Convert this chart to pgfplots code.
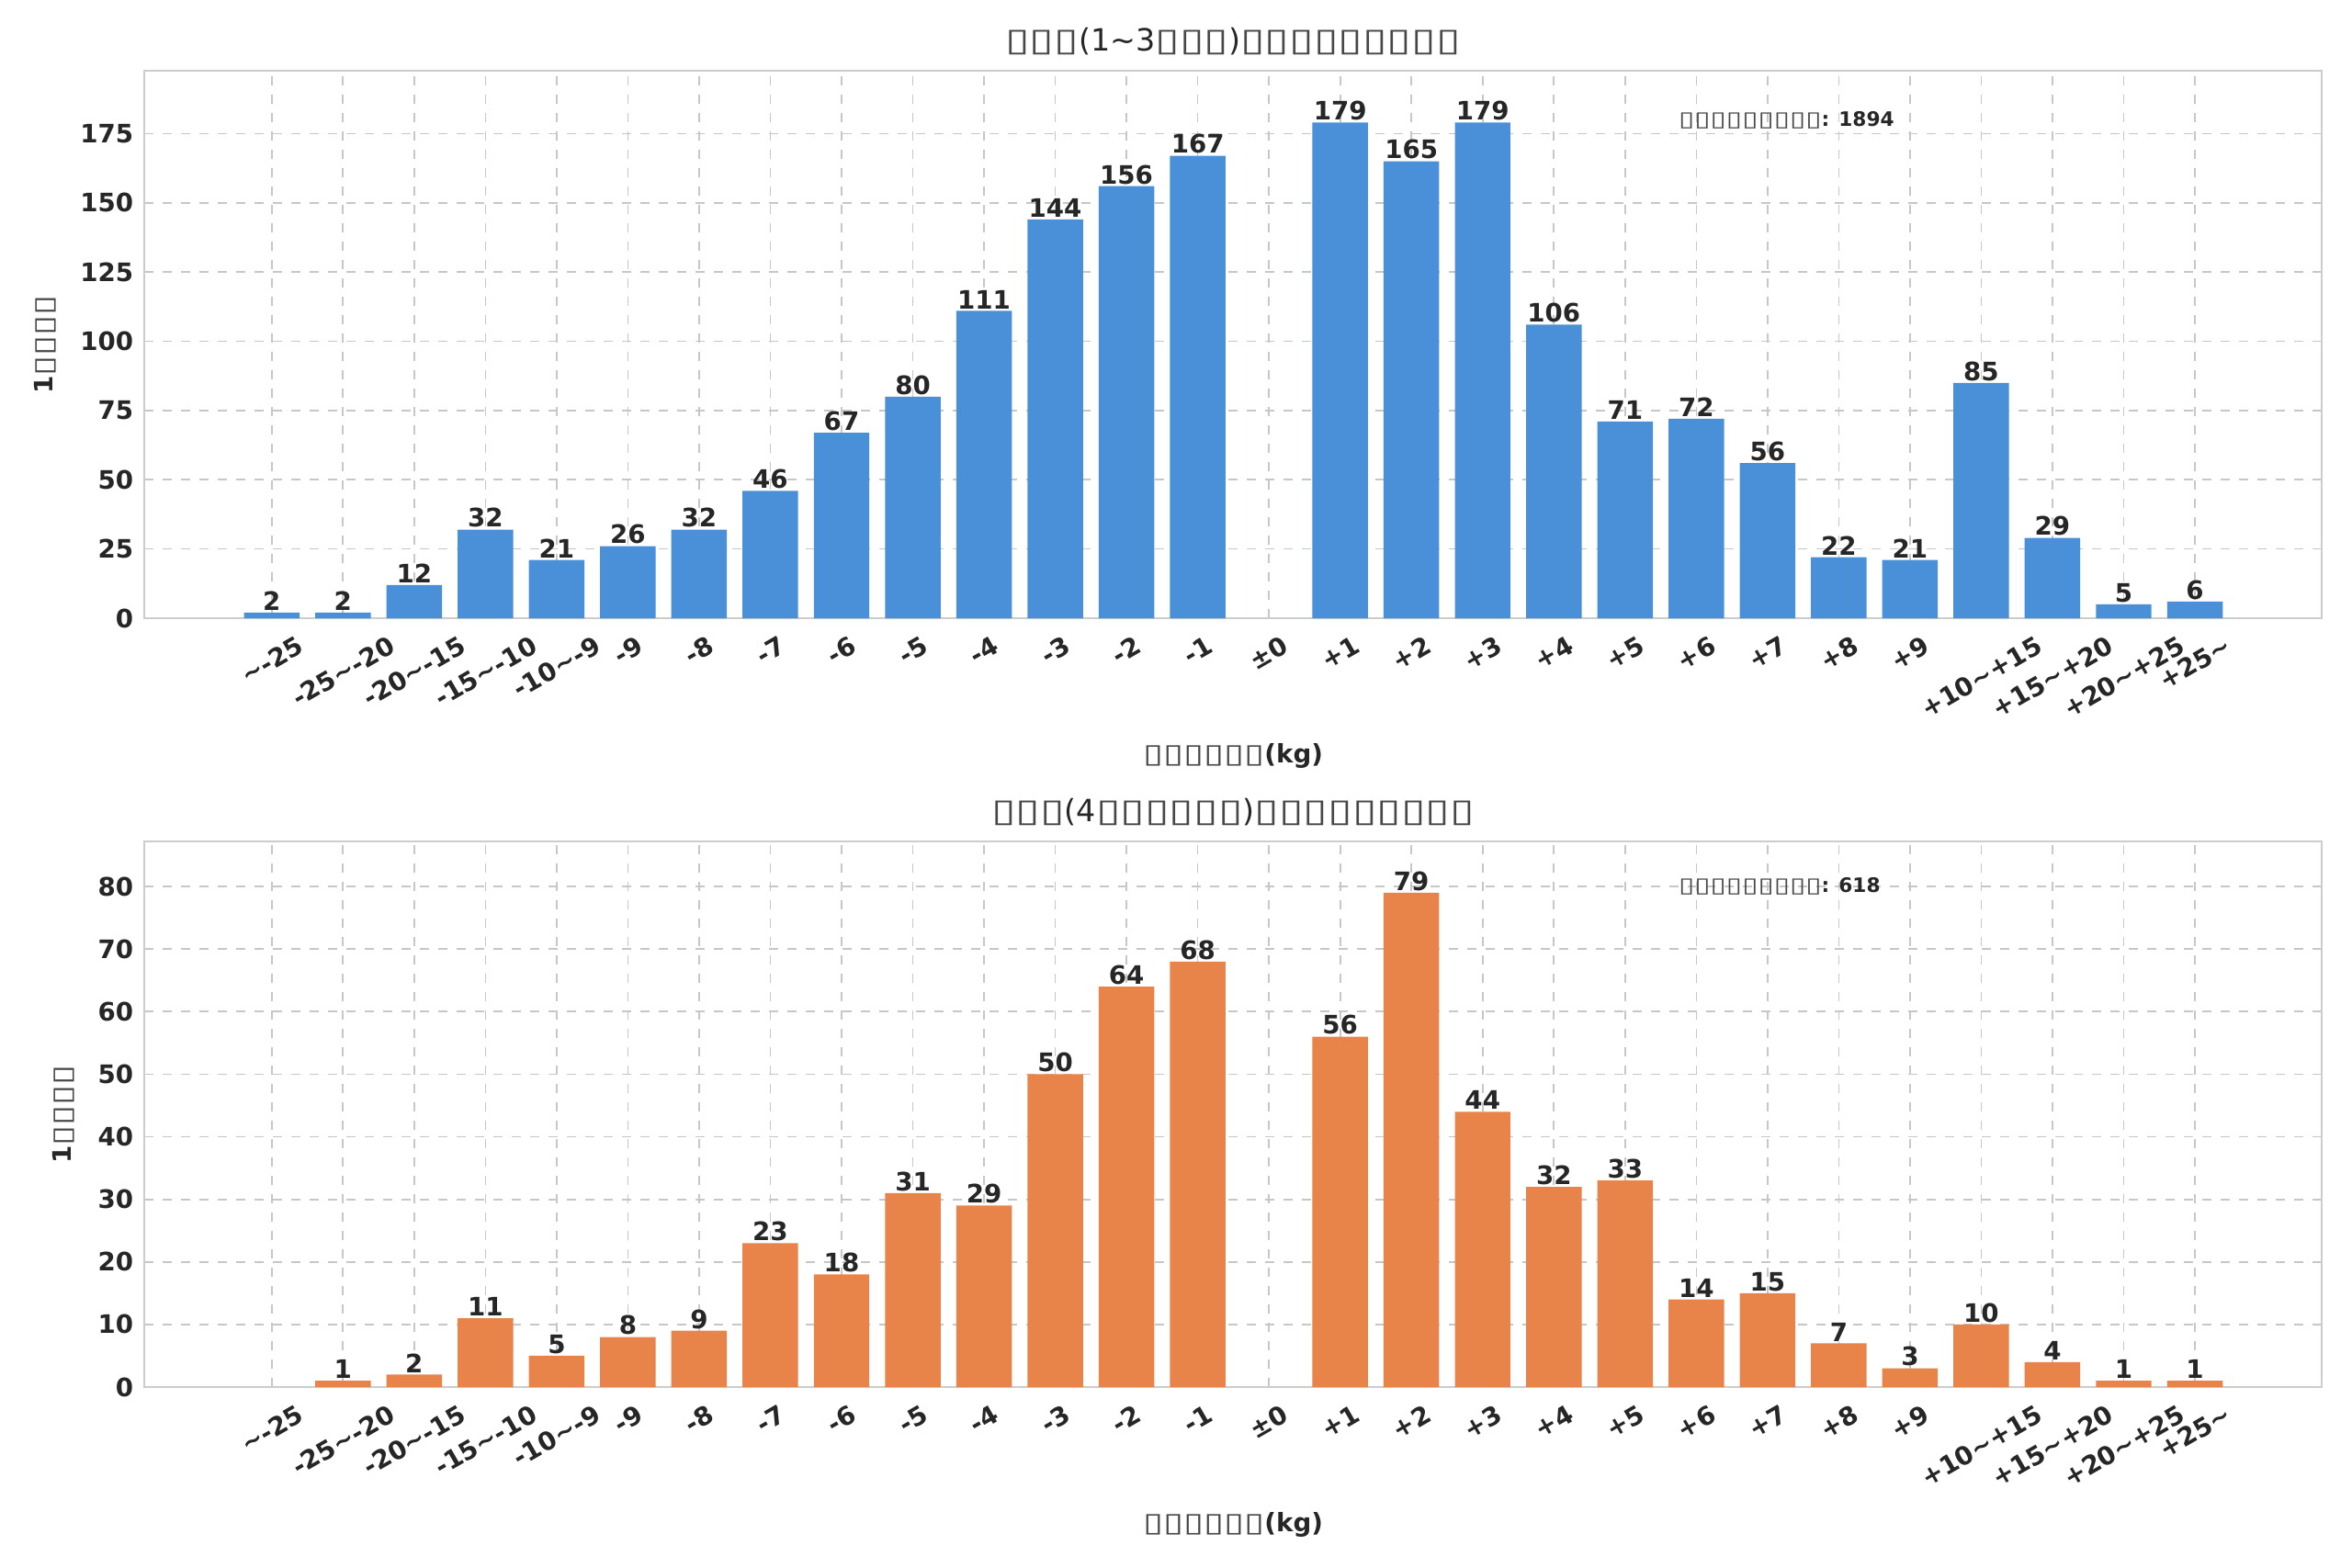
\documentclass[border=0pt]{standalone}
\usepackage{pgfplots}
\pgfplotsset{compat=1.18}
\usepackage{fontspec}
\setmainfont{DejaVu Sans}
\definecolor{cblue}{HTML}{4A90D9}
\definecolor{corange}{HTML}{E8844A}
\definecolor{txt}{HTML}{262626}
\newcommand{\B}{\textmd{\textcolor{txt!85}{\scalebox{1.45}[1.05]{▯}}}}
\newcommand{\R}[1]{\rotatebox{30}{#1}}
\newcommand{\T}{\textasciitilde}
\pgfplotsset{
 common/.style={
  scale only axis, width=711pt, anchor=south west,
  xmin=-1.79, xmax=28.78, ymin=0,
  xtick={0,...,27},
  xticklabels={\R{\T-25},\R{-25\T-20},\R{-20\T-15},\R{-15\T-10},\R{-10\T-9},\R{-9},\R{-8},\R{-7},\R{-6},\R{-5},\R{-4},\R{-3},\R{-2},\R{-1},\R{±0},\R{+1},\R{+2},\R{+3},\R{+4},\R{+5},\R{+6},\R{+7},\R{+8},\R{+9},\R{+10\T+15},\R{+15\T+20},\R{+20\T+25},\R{+25\T}},
  xticklabel style={anchor=north, font=\fontsize{8.3}{9}\selectfont\bfseries, text=txt, inner sep=1pt},
  yticklabel style={font=\fontsize{8.3}{9}\selectfont\bfseries, text=txt},
  /pgf/number format/assume math mode=true,
  axis line style={draw=black!20},
  tick style={draw=none},
  grid=major, grid style={dashed, black!22, line width=0.5pt},
  ybar, bar width=0.78, bar shift=0pt,
  nodes near coords, every node near coord/.append style={font=\fontsize{8.3}{9}\selectfont\bfseries, text=txt, inner sep=0.5pt},
  title style={font=\fontsize{10}{11}\selectfont, text=txt, yshift=-4.5pt},
  xlabel style={at={(axis description cs:0.5,0)}, anchor=center, yshift=-45pt, font=\fontsize{8.3}{9}\selectfont\bfseries, text=txt},
  ylabel style={at={(axis description cs:0,0.5)}, anchor=center, font=\fontsize{8.3}{9}\selectfont\bfseries, text=txt},
  xlabel={\B\B\B\B\B\B(kg)}, ylabel={1\B\B\B\B},
 }}
\begin{document}
\begin{tikzpicture}
\path (0,0) rectangle (768pt,-512pt);
\begin{axis}[common, at={(47.1pt,-201.9pt)}, height=178.8pt, ymax=197.7,
  ytick={0,25,...,175}, ylabel style={yshift=32.4pt},
  title={\B\B\B(1\T3\B\B\B)\B\B\B\B\B\B\B\B\B}]
\addplot[fill=cblue, draw=none] coordinates {(0,2)(1,2)(2,12)(3,32)(4,21)(5,26)(6,32)(7,46)(8,67)(9,80)(10,111)(11,144)(12,156)(13,167)(15,179)(16,165)(17,179)(18,106)(19,71)(20,72)(21,56)(22,22)(23,21)(24,85)(25,29)(26,5)(27,6)};
\node[anchor=west, font=\fontsize{6.5}{7}\selectfont\bfseries, text=txt] at (axis cs:19.6,180) {\B\B\B\B\B\B\B\B\B: 1894};
\end{axis}
\begin{axis}[common, at={(47.1pt,-453pt)}, height=178.2pt, ymax=87.2,
  ytick={0,10,...,80}, ylabel style={yshift=26.4pt},
  title={\B\B\B(4\B\B\B\B\B\B)\B\B\B\B\B\B\B\B\B}]
\addplot[fill=corange, draw=none] coordinates {(1,1)(2,2)(3,11)(4,5)(5,8)(6,9)(7,23)(8,18)(9,31)(10,29)(11,50)(12,64)(13,68)(15,56)(16,79)(17,44)(18,32)(19,33)(20,14)(21,15)(22,7)(23,3)(24,10)(25,4)(26,1)(27,1)};
\node[anchor=west, font=\fontsize{6.5}{7}\selectfont\bfseries, text=txt] at (axis cs:19.6,80) {\B\B\B\B\B\B\B\B\B: 618};
\end{axis}
\end{tikzpicture}
\end{document}
